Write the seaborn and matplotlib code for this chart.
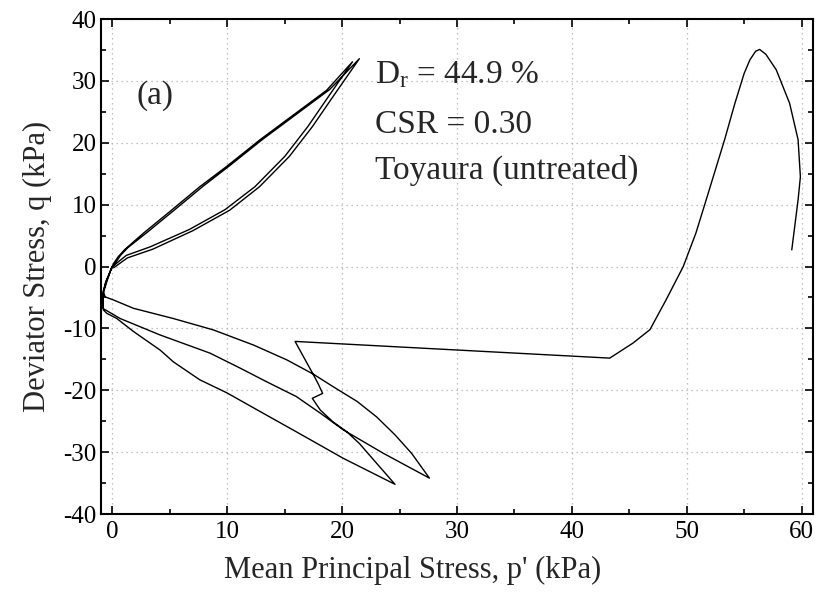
import numpy as np
import pandas as pd
import matplotlib
matplotlib.use("Agg")
import matplotlib.pyplot as plt
from matplotlib.ticker import MultipleLocator
import seaborn as sns

# Effective stress path of a cyclic triaxial test, split into its stages.
# Monotonic start and first extension
p_stage1 = [59.15, 59.7, 59.9, 59.7, 58.96, 57.8, 56.9, 56.35, 56.0, 55.5, 55.0, 54.2, 53.3,
            51.7, 50.8, 49.7, 48.2, 46.8, 45.3, 43.3, 15.9, 17.5, 17.9, 18.3, 17.4,
            18.1, 19.2, 20.4, 21.5, 23.0, 24.6]
q_stage1 = [2.7, 10.8, 14.5, 20.5, 26.4, 31.8, 34.3, 35.1, 34.8, 33.4, 31.2, 26.4, 20.5,
            10.8, 5.4, 0.0, -5.4, -10.2, -12.4, -14.8, -12.1, -17.5, -18.9, -20.5, -21.3,
            -23.2, -25.1, -26.7, -28.6, -31.8, -35.2]

# Return from the first extension peak
p_stage2 = [20.1, 16.0, 13.4, 9.95, 7.6, 5.3, 4.15, 1.83, 0.38, -0.5, -0.8, -0.85, -0.8,
            -0.5, -0.1]
q_stage2 = [-31.0, -26.7, -24.0, -20.4, -18.3, -15.4, -13.5, -10.5, -8.4, -7.55, -7.0,
            -5.0, -4.3, -2.5, -0.3]

# First compression loop
p_stage3 = [0.1, 0.5, 1.1, 2.7, 5.0, 7.6, 9.95, 12.85, 15.75, 18.65, 20.9,
            19.0, 17.0, 15.0, 12.4, 9.8, 6.7, 3.3, 1.2, 0.0, -0.6, -0.85, -0.8]
q_stage3 = [0.5, 1.6, 2.8, 5.4, 8.9, 12.9, 16.2, 20.5, 24.5, 28.5, 33.1,
            28.0, 22.6, 17.8, 12.9, 9.2, 6.0, 3.2, 1.8, 0.0, -2.5, -4.5, -6.8]

# Second extension loop
p_stage4 = [0.67, 4.15, 8.5, 11.1, 13.4, 16.0, 18.1, 20.1, 23.6, 27.6,
            26.05, 24.6, 23.0, 21.3, 19.2, 17.5, 15.2, 12.3, 8.8, 5.3, 1.83, 0.09,
            -0.64, -0.8, -0.5, -0.1]
q_stage4 = [-8.4, -11.06, -14.0, -16.4, -18.6, -21.0, -23.7, -26.4, -30.2, -34.2,
            -30.2, -27.2, -24.3, -21.8, -19.4, -17.4, -15.1, -12.7, -10.25, -8.4, -6.75,
            -5.4, -4.9, -4.0, -2.2, -0.3]

# Second compression loop
p_stage5 = [0.3, 0.7, 1.3, 3.0, 5.3, 7.9, 10.2, 13.1, 16.0, 18.9, 21.5,
            19.4, 17.4, 15.4, 12.8, 10.2, 7.0, 3.5, 1.3, 0.1]
q_stage5 = [0.7, 1.8, 3.0, 5.5, 9.0, 13.0, 16.3, 20.6, 24.6, 28.6, 33.6,
            28.0, 22.6, 17.8, 12.9, 9.1, 5.8, 2.8, 1.4, -0.2]

x_ticks = [0, 10, 20, 30, 40, 50, 60]
y_ticks = [-40, -30, -20, -10, 0, 10, 20, 30, 40]

path = pd.DataFrame({
    "p": p_stage1 + p_stage2 + p_stage3 + p_stage4 + p_stage5,
    "q": q_stage1 + q_stage2 + q_stage3 + q_stage4 + q_stage5,
})
path["step"] = np.arange(len(path))

sns.set_theme(style="ticks")
plt.rcParams["font.family"] = ["Liberation Serif", "DejaVu Serif"]
plt.rcParams["mathtext.fontset"] = "custom"
plt.rcParams["mathtext.rm"] = "Liberation Serif"
plt.rcParams["mathtext.it"] = "Liberation Serif:italic"
plt.rcParams["axes.unicode_minus"] = False

fig = plt.figure(figsize=(8.19, 5.97), dpi=100)
ax = fig.add_axes([0.1233, 0.139, 0.8694, 0.829])

sns.lineplot(data=path, x="p", y="q", sort=False, estimator=None, color="black",
             linewidth=1.0, ax=ax)

ax.set_xlim(-1, 61)
ax.set_ylim(-40, 40)
ax.set_xticks(x_ticks)
ax.set_yticks(y_ticks)
ax.xaxis.set_minor_locator(MultipleLocator(5))
ax.yaxis.set_minor_locator(MultipleLocator(5))
ax.tick_params(which="both", direction="in", top=True, right=True, colors="black",
               labelsize=18, width=1.2)
ax.tick_params(which="major", length=6)
ax.tick_params(axis="x", which="major", pad=5)
ax.tick_params(axis="y", which="major", pad=3)
ax.tick_params(which="minor", length=3.5)
for s in ax.spines.values():
    s.set_linewidth(1.5)
    s.set_color("black")

ax.grid(True, which="major", linestyle=(0, (1, 3)), color="#b0b0b0", linewidth=0.9)
ax.set_axisbelow(True)

ax.set_xlabel("Mean Principal Stress, p' (kPa)", fontsize=22, labelpad=4)
ax.xaxis.set_label_coords(0.437, -0.085)
ax.set_ylabel("Deviator Stress, q (kPa)", fontsize=22, labelpad=8)

ax.text(2.1, 27.7, "(a)", fontsize=24, va="center", ha="left")
ax.text(22.9, 31.0, r"D$_\mathregular{r}$ = 44.9 %", fontsize=24, va="center", ha="left")
ax.text(22.9, 23.0, "CSR = 0.30", fontsize=24, va="center", ha="left")
ax.text(22.9, 15.6, "Toyaura (untreated)", fontsize=24, va="center", ha="left")

fig.savefig("out.png", dpi=100)
